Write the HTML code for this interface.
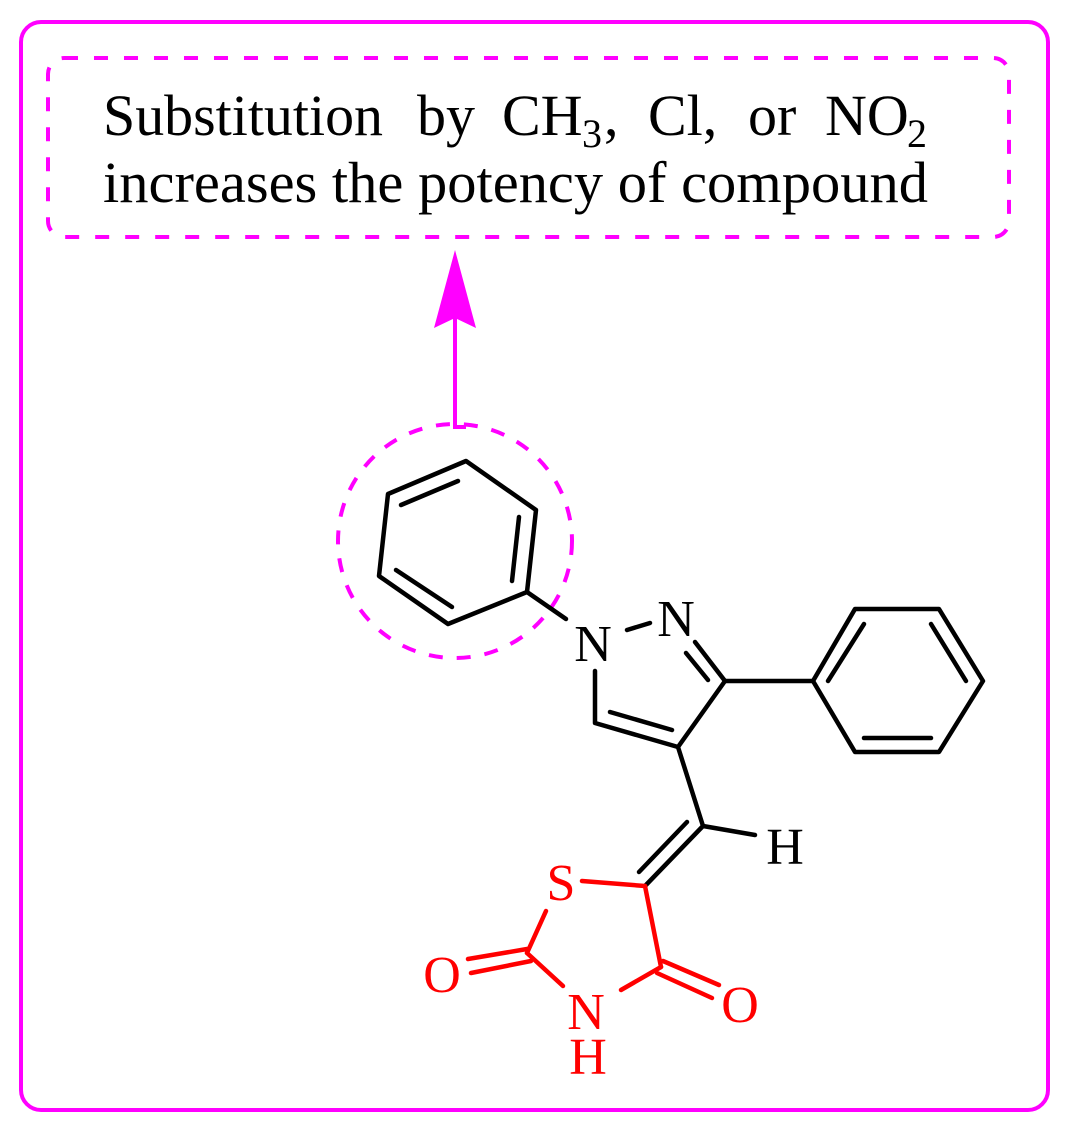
<!DOCTYPE html>
<html><head><meta charset="utf-8"><style>
html,body{margin:0;padding:0;background:#fff}
svg{display:block}
text{font-family:"Liberation Serif",serif}
</style></head><body>
<svg width="1070" height="1130" viewBox="0 0 1070 1130" xmlns="http://www.w3.org/2000/svg">
<rect x="21" y="22" width="1027" height="1088" rx="20" fill="none" stroke="#f0f" stroke-width="4"/>
<rect x="48" y="58" width="961" height="179" rx="16" fill="none" stroke="#f0f" stroke-width="4" stroke-dasharray="14,16"/>
<g font-size="58" fill="#000">
<text x="103" y="135" textLength="280" lengthAdjust="spacingAndGlyphs">Substitution</text>
<text x="417" y="135">by</text>
<text x="502" y="135">CH</text>
<text x="582" y="147" font-size="40">3</text>
<text x="604" y="135">,</text>
<text x="648" y="135">Cl,</text>
<text x="748" y="135">or</text>
<text x="825" y="135">NO</text>
<text x="907" y="147" font-size="40">2</text>
<text x="103" y="202" textLength="825" lengthAdjust="spacingAndGlyphs">increases the potency of compound</text>
</g>
<polyline points="466,427 455,427 455,315" fill="none" stroke="#f0f" stroke-width="4"/>
<polygon points="455,250 476,328 455,318 434,328" fill="#f0f"/>
<circle cx="455" cy="541" r="117" fill="none" stroke="#f0f" stroke-width="4" stroke-dasharray="14,14"/>
<g stroke="#000" stroke-width="4.5" fill="none" stroke-linecap="round" stroke-linejoin="round">
<polygon points="466,461 536,510 527,592 448,624 379,576 388,494"/>
<line x1="401" y1="505" x2="458" y2="481"/>
<line x1="519" y1="517" x2="512" y2="581"/>
<line x1="396" y1="570" x2="452" y2="607"/>
<line x1="527" y1="592" x2="566" y2="619"/>
<line x1="627" y1="630" x2="650" y2="623"/>
<line x1="695" y1="642" x2="725" y2="681"/>
<line x1="686" y1="653" x2="708" y2="680"/>
<polyline points="595,671 595,723 678,747 725,681"/>
<line x1="610" y1="712" x2="672" y2="730"/>
<line x1="725" y1="681" x2="813" y2="681"/>
<polygon points="813,681 855,609 939,609 983,681 939,752 855,752"/>
<line x1="828" y1="681" x2="864" y2="624"/>
<line x1="931" y1="624" x2="966" y2="681"/>
<line x1="864" y1="738" x2="931" y2="738"/>
<line x1="678" y1="747" x2="703" y2="826"/>
<line x1="703" y1="826" x2="755" y2="835"/>
<line x1="703" y1="826" x2="645" y2="886"/>
<line x1="687" y1="822" x2="639" y2="872"/>
</g>
<g stroke="#f00" stroke-width="4.5" fill="none" stroke-linecap="round" stroke-linejoin="round">
<line x1="582" y1="881" x2="645" y2="886"/>
<line x1="645" y1="886" x2="661" y2="967"/>
<line x1="663" y1="961" x2="719" y2="985"/>
<line x1="657" y1="973" x2="712" y2="998"/>
<line x1="661" y1="967" x2="621" y2="990"/>
<line x1="563" y1="986" x2="527" y2="953"/>
<line x1="527" y1="953" x2="546" y2="911"/>
<line x1="527" y1="949" x2="468" y2="959"/>
<line x1="531" y1="961" x2="471" y2="973"/>
</g>
<g font-size="52" text-anchor="middle">
<text x="593" y="661" fill="#000">N</text>
<text x="676" y="636" fill="#000">N</text>
<text x="785" y="864" fill="#000">H</text>
<text x="561" y="900" fill="#f00">S</text>
<text x="442" y="992" fill="#f00">O</text>
<text x="740" y="1022" fill="#f00">O</text>
<text x="586" y="1029" fill="#f00">N</text>
<text x="588" y="1074" fill="#f00">H</text>
</g>
</svg>
</body></html>
